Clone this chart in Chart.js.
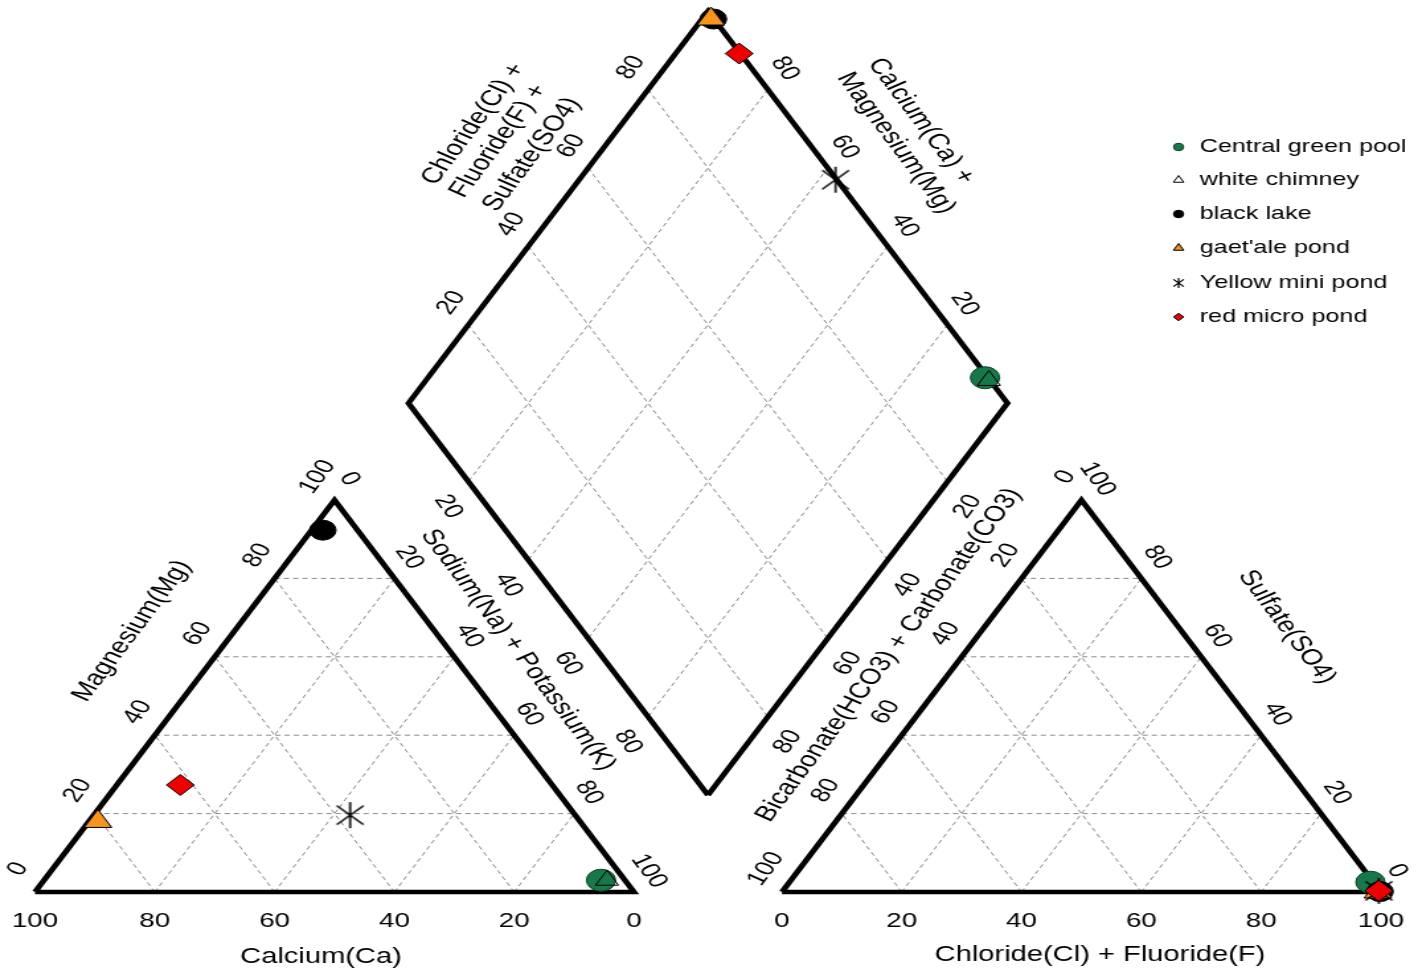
<!DOCTYPE html>
<html>
<head>
<meta charset="utf-8">
<title>Piper diagram</title>
<script src="https://cdn.jsdelivr.net/npm/chart.js"></script>
<style>
  html, body { margin: 0; padding: 0; background: #fff; overflow: hidden; }
</style>
</head>
<body>
<!-- drawn on a narrower canvas and stretched sideways, like the original picture -->
<canvas id="piper" width="1072" height="980" style="width:1418px;height:980px"></canvas>
<script>
// samples and their ion shares (percent of meq)
const samples = ['Central green pool', 'white chimney', 'black lake', "gaet'ale pond", 'Yellow mini pond', 'red micro pond'];
const calcium = [4.0, 3.0, 5.8, 80.5, 37.6, 62.1];
const magnesium = [3.0, 3.0, 92.3, 18.0, 19.6, 27.3];
const sodiumPotassium = [93.0, 94.0, 1.9, 1.5, 42.8, 10.6];
const chlorideFluoride = [97.0, 99.5, 99.8, 99.5, 99.5, 99.5];
const sulfate = [2.5, 0.3, 0.1, 0.0, 0.3, 0.3];
const bicarbonateCarbonate = [0.5, 0.2, 0.1, 0.5, 0.2, 0.2];

const tickValues = [0, 20, 40, 60, 80, 100];
const diamondTicks = [20, 40, 60, 80];
const gridValues = [20, 40, 60, 80];

// geometry of the diagram (triangle side = 100)
const H = 100 * Math.sqrt(3) / 2;
const GAP = 24.7;
const X0 = 100 + GAP;                       // left corner of anion triangle
const B = { x: (100 + X0) / 2, y: H * GAP / 100 }; // bottom corner of diamond

function cationXY(ca, mg, nak) {
  const t = ca + mg + nak;
  mg = mg / t * 100; nak = nak / t * 100;
  return { x: nak + mg / 2, y: mg * H / 100 };
}
function anionXY(cl, so4, hco3) {
  const t = cl + so4 + hco3;
  cl = cl / t * 100; so4 = so4 / t * 100;
  return { x: X0 + cl + so4 / 2, y: so4 * H / 100 };
}
function diamondXY(nak, hco3) {
  const a = 1 - nak / 100, b = 1 - hco3 / 100;
  return { x: B.x - 50 * a + 50 * b, y: B.y + H * a + H * b };
}

// marker look for each sample
function asterisk(size, lw) {
  const c = document.createElement('canvas');
  const s = Math.ceil(size * 2 + 4);
  c.width = s; c.height = s;
  const g = c.getContext('2d');
  const m = s / 2, dx = size * 0.78, dy = size * 0.73;
  g.strokeStyle = '#000';
  g.lineWidth = lw;
  g.beginPath();
  g.moveTo(m, m - size); g.lineTo(m, m + size);
  g.moveTo(m - dx, m - dy); g.lineTo(m + dx, m + dy);
  g.moveTo(m - dx, m + dy); g.lineTo(m + dx, m - dy);
  g.stroke();
  return c;
}
const markers = [
  { shape: 'circle', r: 11, fill: '#17794a', border: '#0c3f26' },
  { shape: 'triangle', r: 10, fill: 'rgba(255,255,255,0)', border: '#000' },
  { shape: 'circle', r: 10, fill: '#000', border: '#000' },
  { shape: 'triangle', r: 12, fill: '#f7941d', border: '#000' },
  { shape: 'asterisk', r: 13, fill: '#000', border: '#000' },
  { shape: 'rectRot', r: 10.5, fill: '#ee0000', border: '#000' }
];
const starBig = asterisk(13, 1.6);
const starSmall = asterisk(5, 1.2);

// frames and grid
function polygon(pts) { return pts.concat([pts[0]]); }
const dLeft = { x: B.x - 50, y: B.y + H }, dTop = { x: B.x, y: B.y + 2 * H }, dRight = { x: B.x + 50, y: B.y + H };
const frames = [
  polygon([cationXY(100, 0, 0), cationXY(0, 0, 100), cationXY(0, 100, 0)]),
  polygon([anionXY(0, 0, 100), anionXY(100, 0, 0), anionXY(0, 100, 0)]),
  polygon([{ x: B.x, y: B.y }, dLeft, dTop, dRight])
];

const gridPts = [];
function seg(p, q) { gridPts.push(p, q, { x: p.x, y: null }); }
for (const k of gridValues) {
  seg(cationXY(100 - k, k, 0), cationXY(0, k, 100 - k));
  seg(cationXY(100 - k, 0, k), cationXY(0, 100 - k, k));
  seg(cationXY(k, 0, 100 - k), cationXY(k, 100 - k, 0));
  seg(anionXY(0, k, 100 - k), anionXY(100 - k, k, 0));
  seg(anionXY(k, 0, 100 - k), anionXY(k, 100 - k, 0));
  seg(anionXY(100 - k, 0, k), anionXY(0, 100 - k, k));
  seg(diamondXY(k, 0), diamondXY(k, 100));
  seg(diamondXY(0, k), diamondXY(100, k));
}

const datasets = [];
datasets.push({
  data: gridPts, showLine: true, spanGaps: false, pointRadius: 0,
  borderColor: '#8a8a8a', borderWidth: 1, borderDash: [4, 3], order: 30
});
for (const f of frames) {
  datasets.push({
    data: f, showLine: true, pointRadius: 0,
    borderColor: '#000', borderWidth: 4.5, borderJoinStyle: 'miter', order: 20
  });
}
samples.forEach((name, i) => {
  const nak = sodiumPotassium[i] / (calcium[i] + magnesium[i] + sodiumPotassium[i]) * 100;
  const hco3 = bicarbonateCarbonate[i] / (chlorideFluoride[i] + sulfate[i] + bicarbonateCarbonate[i]) * 100;
  const m = markers[i];
  datasets.push({
    label: name,
    data: [
      cationXY(calcium[i], magnesium[i], sodiumPotassium[i]),
      anionXY(chlorideFluoride[i], sulfate[i], bicarbonateCarbonate[i]),
      diamondXY(nak, hco3)
    ],
    pointStyle: m.shape === 'asterisk' ? starBig : m.shape,
    pointRadius: m.r,
    pointHoverRadius: m.r,
    pointBackgroundColor: m.fill,
    pointBorderColor: m.border,
    pointBorderWidth: 1,
    order: samples.length - i
  });
});

// axis numbers along every edge, offsets in canvas px
const edgeLabels = [
  { values: tickValues, at: v => cationXY(v, 0, 100 - v), dx: 0, dy: 29, rot: 0 },
  { values: tickValues, at: v => cationXY(100 - v, v, 0), dx: -12.9, dy: -23, rot: -60 },
  { values: tickValues, at: v => cationXY(0, 100 - v, v), dx: 11.3, dy: -21, rot: 60 },
  { values: tickValues, at: v => anionXY(v, 0, 100 - v), dx: 0, dy: 29, rot: 0 },
  { values: tickValues, at: v => anionXY(0, 100 - v, v), dx: -12.1, dy: -23, rot: -60 },
  { values: tickValues, at: v => anionXY(100 - v, v, 0), dx: 12.1, dy: -21, rot: 60 },
  { values: diamondTicks, at: v => diamondXY(0, 100 - v), dx: -12.9, dy: -22, rot: -60 },
  { values: diamondTicks, at: v => diamondXY(100 - v, 0), dx: 12.9, dy: -21, rot: 60 },
  { values: diamondTicks, at: v => diamondXY(v, 100), dx: -15.1, dy: 25, rot: 60 },
  { values: diamondTicks, at: v => diamondXY(100, v), dx: 15.1, dy: 25, rot: -60 }
];
const titles = [
  { text: 'Calcium(Ca)', x: 242.7, y: 957, rot: 0 },
  { text: 'Chloride(Cl) + Fluoride(F)', x: 831.6, y: 955, rot: 0 },
  { text: 'Magnesium(Mg)', x: 99.8, y: 631, rot: -60 },
  { text: 'Sodium(Na) + Potassium(K)', x: 391.6, y: 650, rot: 60 },
  { text: 'Sulfate(SO4)', x: 972.9, y: 627, rot: 60 },
  { text: 'Bicarbonate(HCO3) + Carbonate(CO3)', x: 672, y: 655, rot: -60 },
  { text: 'Chloride(Cl) +', x: 358, y: 124, rot: -60 },
  { text: 'Fluoride(F) +', x: 377, y: 141, rot: -60 },
  { text: 'Sulfate(SO4)', x: 402, y: 154.5, rot: -60 },
  { text: 'Calcium(Ca) +', x: 696.3, y: 121, rot: 60 },
  { text: 'Magnesium(Mg)', x: 677.4, y: 143, rot: 60 }
];
const FONT = "'Liberation Sans', Arial, Helvetica, sans-serif";

function drawText(ctx, text, x, y, rot, size) {
  ctx.save();
  ctx.translate(x, y);
  ctx.rotate(rot * Math.PI / 180);
  ctx.font = size + 'px ' + FONT;
  ctx.fillStyle = '#000';
  ctx.textAlign = 'center';
  ctx.textBaseline = 'middle';
  ctx.fillText(text, 0, 0);
  ctx.restore();
}

function drawMarker(ctx, m, x, y, r) {
  if (m.shape === 'asterisk') {
    ctx.drawImage(starSmall, x - starSmall.width / 2, y - starSmall.height / 2);
    return;
  }
  ctx.save();
  ctx.fillStyle = m.fill;
  ctx.strokeStyle = m.border;
  ctx.lineWidth = 1;
  ctx.beginPath();
  if (m.shape === 'circle') {
    ctx.arc(x, y, r, 0, Math.PI * 2);
  } else if (m.shape === 'triangle') {
    ctx.moveTo(x, y - r);
    ctx.lineTo(x + r * 0.866, y + r / 2);
    ctx.lineTo(x - r * 0.866, y + r / 2);
    ctx.closePath();
  } else {
    ctx.moveTo(x, y - r); ctx.lineTo(x + r, y); ctx.lineTo(x, y + r); ctx.lineTo(x - r, y);
    ctx.closePath();
  }
  ctx.fill();
  ctx.stroke();
  ctx.restore();
}

const piperText = {
  id: 'piperText',
  afterDraw(chart) {
    const ctx = chart.ctx, sx = chart.scales.x, sy = chart.scales.y;
    for (const e of edgeLabels) {
      for (const v of e.values) {
        const p = e.at(v);
        drawText(ctx, String(v), sx.getPixelForValue(p.x) + e.dx, sy.getPixelForValue(p.y) + e.dy, e.rot, 21);
      }
    }
    for (const t of titles) drawText(ctx, t.text, t.x, t.y, t.rot, 22);

    // legend
    const rowY = [147, 180, 214, 248, 283, 317];
    samples.forEach((name, i) => {
      drawMarker(ctx, markers[i], 891, rowY[i], markers[i].shape === 'triangle' ? 4.5 : 3.8);
      ctx.save();
      ctx.font = '19px ' + FONT;
      ctx.fillStyle = '#000';
      ctx.textAlign = 'left';
      ctx.textBaseline = 'middle';
      ctx.fillText(name, 907, rowY[i]);
      ctx.restore();
    });
  }
};

new Chart(document.getElementById('piper'), {
  type: 'scatter',
  data: { datasets: datasets },
  options: {
    responsive: false,
    animation: false,
    devicePixelRatio: 1,
    layout: { padding: 0, autoPadding: false },
    events: [],
    plugins: { legend: { display: false }, tooltip: { enabled: false } },
    scales: {
      x: { type: 'linear', min: -26.46 / 4.5283, max: (1072 - 26.46) / 4.5283, display: false },
      y: { type: 'linear', min: (892 - 980) / 4.5264, max: 892 / 4.5264, display: false }
    }
  },
  plugins: [piperText]
});
</script>
</body>
</html>
